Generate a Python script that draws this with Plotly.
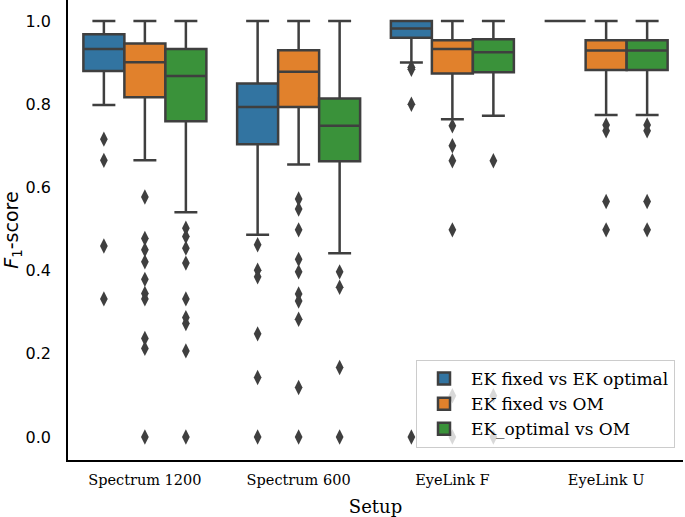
import plotly.graph_objects as go

setups = ["Spectrum 1200", "Spectrum 600", "EyeLink F", "EyeLink U"]
series = ["EK fixed vs EK optimal", "EK fixed vs OM", "EK_optimal vs OM"]
colors = ["#3274A1", "#E1812C", "#3A923A"]

# box statistics per series, one value per setup
ek_fixed_vs_ek_opt = dict(
    upper=[1.0, 1.0, 1.0, 1.0],
    q3=[0.968, 0.850, 1.0, 1.0],
    median=[0.933, 0.793, 0.982, 1.0],
    q1=[0.880, 0.704, 0.960, 1.0],
    lower=[0.798, 0.486, 0.900, 1.0],
)
ek_fixed_vs_om = dict(
    upper=[1.0, 1.0, 1.0, 1.0],
    q3=[0.946, 0.930, 0.954, 0.954],
    median=[0.901, 0.878, 0.933, 0.929],
    q1=[0.817, 0.793, 0.874, 0.882],
    lower=[0.665, 0.655, 0.764, 0.774],
)
ek_opt_vs_om = dict(
    upper=[1.0, 1.0, 1.0, 1.0],
    q3=[0.933, 0.814, 0.956, 0.954],
    median=[0.868, 0.748, 0.925, 0.929],
    q1=[0.759, 0.663, 0.877, 0.882],
    lower=[0.540, 0.442, 0.772, 0.774],
)

# outliers per series, one list per setup
out_ek_fixed_vs_ek_opt = [
    [0.716, 0.665, 0.459, 0.332],
    [0.462, 0.401, 0.385, 0.248, 0.143, 0.0],
    [0.889, 0.884, 0.800, 0.0],
    [],
]
out_ek_fixed_vs_om = [
    [0.577, 0.477, 0.450, 0.421, 0.379, 0.345, 0.332, 0.237, 0.213, 0.0],
    [0.572, 0.548, 0.498, 0.427, 0.397, 0.344, 0.327, 0.283, 0.119, 0.0],
    [0.748, 0.700, 0.664, 0.498, 0.099, 0.0],
    [0.750, 0.736, 0.566, 0.498],
]
out_ek_opt_vs_om = [
    [0.502, 0.482, 0.454, 0.418, 0.332, 0.287, 0.273, 0.207, 0.0],
    [0.397, 0.360, 0.167, 0.0],
    [0.664, 0.099, 0.0],
    [0.750, 0.736, 0.566, 0.498],
]

stats = [ek_fixed_vs_ek_opt, ek_fixed_vs_om, ek_opt_vs_om]
outliers = [out_ek_fixed_vs_ek_opt, out_ek_fixed_vs_om, out_ek_opt_vs_om]

LINE = "#3f3f3f"
SERIF = "DejaVu Serif"
SANS = "DejaVu Sans"
n_series = len(series)
group_width = 0.8
box_w = group_width / n_series

fig = go.Figure()
for j, name in enumerate(series):
    offset = (j - (n_series - 1) / 2) * box_w
    xs = [i + offset for i in range(len(setups))]
    s = stats[j]
    fig.add_trace(go.Box(
        name=name,
        x=xs,
        q1=s["q1"], median=s["median"], q3=s["q3"],
        lowerfence=s["lower"], upperfence=s["upper"],
        width=box_w,
        fillcolor=colors[j],
        line=dict(color=LINE, width=2.5),
        whiskerwidth=0.56,
        boxpoints=False,
        hoverinfo="skip",
    ))
for j, name in enumerate(series):
    offset = (j - (n_series - 1) / 2) * box_w
    ox, oy = [], []
    for i, vals in enumerate(outliers[j]):
        for v in vals:
            ox.append(i + offset)
            oy.append(v)
    fig.add_trace(go.Scatter(
        x=ox, y=oy, mode="markers", showlegend=False,
        marker=dict(symbol="diamond-tall", size=11, color=LINE),
        hoverinfo="skip",
    ))

fig.update_layout(
    width=685, height=517,
    margin=dict(l=68, r=2, t=0, b=57),
    plot_bgcolor="white", paper_bgcolor="white",
    font=dict(family=SERIF, size=14, color="black"),
    legend=dict(
        x=0.987, y=0.026, xanchor="right", yanchor="bottom",
        bgcolor="rgba(255,255,255,0.8)", bordercolor="#cccccc", borderwidth=1,
        font=dict(family=SERIF, size=17), tracegroupgap=0, itemwidth=44,
    ),
    showlegend=True,
)
fig.update_xaxes(
    range=[-0.5, 3.5], tickvals=list(range(len(setups))), ticktext=setups,
    showgrid=False, zeroline=False, showline=True, linecolor="black", linewidth=1.5,
    ticks="", tickfont=dict(family=SERIF, size=14.5), ticklabelstandoff=6,
    title=dict(text="Setup", font=dict(family=SERIF, size=18), standoff=14),
)
fig.update_yaxes(
    range=[-0.0553, 1.0505], tickvals=[0, 0.2, 0.4, 0.6, 0.8, 1.0],
    ticktext=["0.0", "0.2", "0.4", "0.6", "0.8", "1.0"],
    showgrid=False, zeroline=False, showline=True, linecolor="black", linewidth=1.5,
    ticks="", tickfont=dict(family=SANS, size=16), ticklabelstandoff=12,
    title=dict(text="<i>F</i><sub>1</sub>-score", font=dict(family=SANS, size=19), standoff=8),
)

fig.write_html("out.html", config={"displayModeBar": False},
               post_script="document.body.style.margin='0px';")
